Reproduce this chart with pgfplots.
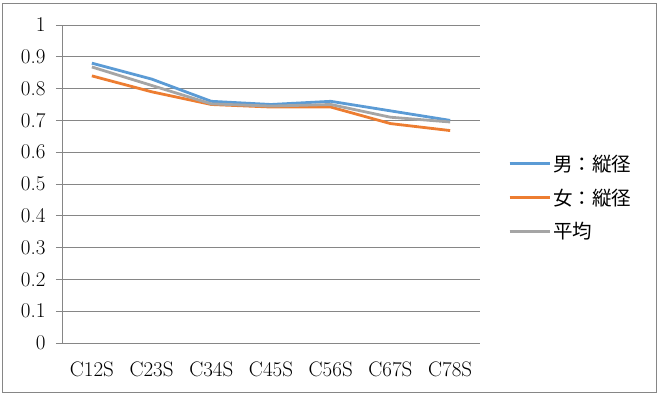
\documentclass[border=0pt]{standalone}
\usepackage{fontspec}
\usepackage{pgfplots}
\pgfplotsset{compat=1.18}
\newfontfamily\cjk{Noto Sans CJK JP}
\definecolor{cblue}{HTML}{5B9BD5}
\definecolor{corange}{HTML}{ED7D31}
\definecolor{cgray}{HTML}{A5A5A5}
\definecolor{axgray}{HTML}{868686}
\begin{document}
\begin{tikzpicture}
\path (0pt,0pt) rectangle (658pt,395pt);
\draw[axgray,line width=0.8pt] (2pt,3pt) rectangle (656pt,392pt);
\begin{axis}[
  at={(62pt,52pt)}, anchor=south west,
  scale only axis, width=418pt, height=318pt,
  xmin=-0.5, xmax=6.5, ymin=0, ymax=1,
  axis x line*=bottom, axis y line*=left,
  axis line style={axgray, line width=0.8pt},
  xtick={0,...,6},
  xticklabels={C12S,C23S,C34S,C45S,C56S,C67S,C78S},
  x tick style={draw=none},
  extra x ticks={-0.5,0.5,1.5,2.5,3.5,4.5,5.5,6.5},
  extra x tick labels={},
  extra x tick style={tick style={axgray,line width=0.8pt}, major tick length=6pt, tick align=outside},
  ytick={0,0.1,0.2,0.3,0.4,0.5,0.6,0.7,0.8,0.9,1},
  yticklabels={0,0.1,0.2,0.3,0.4,0.5,0.6,0.7,0.8,0.9,1},
  yticklabel style={xshift=-7pt},
  xticklabel style={yshift=-9pt},
  y tick style={axgray,line width=0.8pt},
  tick align=outside, major tick length=6pt,
  ymajorgrids, grid style={axgray, line width=0.8pt},
  tick label style={font=\fontsize{21}{24}\selectfont},
  legend style={draw=none, at={(1.067,0.605)}, anchor=north west,
    font=\cjk\fontsize{19.5}{22}\selectfont, row sep=12pt, cells={anchor=west},
    inner xsep=0pt},
  legend image code/.code={\draw[#1,line width=2.8pt] (0pt,0pt) -- (40pt,0pt);},
  every axis plot/.append style={line width=2.8pt},
  clip=false,
]
\addplot[cblue] coordinates {(0,0.88) (1,0.83) (2,0.76) (3,0.75) (4,0.76) (5,0.73) (6,0.70)};
\addlegendentry{男：縦径}
\addplot[corange] coordinates {(0,0.84) (1,0.79) (2,0.75) (3,0.742) (4,0.742) (5,0.69) (6,0.668)};
\addlegendentry{女：縦径}
\addplot[cgray] coordinates {(0,0.868) (1,0.81) (2,0.752) (3,0.745) (4,0.75) (5,0.71) (6,0.695)};
\addlegendentry{平均}
\end{axis}
\end{tikzpicture}
\end{document}
